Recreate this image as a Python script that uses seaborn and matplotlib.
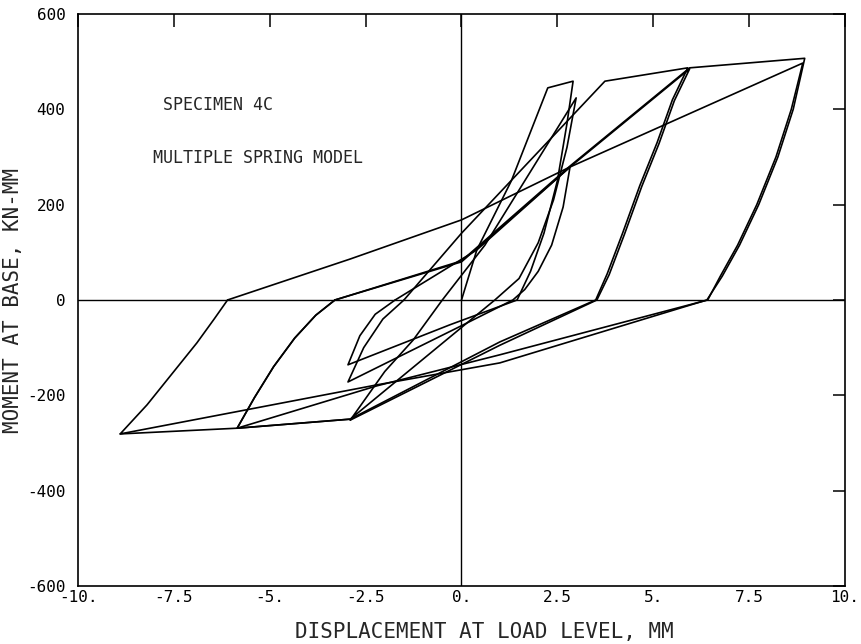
import pandas as pd
import numpy as np
import matplotlib
matplotlib.use('Agg')
import matplotlib.pyplot as plt
import seaborn as sns

# hysteresis path (displacement mm, moment kN-mm)
cyc1_x = [0, 0.4, 1.3, 2.25, 2.91, 2.75, 2.5, 2.15, 1.8, 1.45, -0.3, -2.96, -2.65, -2.25, -1.73]
cyc1_y = [0, 105, 250, 445, 459, 370, 250, 140, 60, 0, -52, -136, -75, -30, 0]

cyc2_x = [-1.73, 0.4, 2.83, 2.65, 2.35, 2.0, 1.65, 1.34, 0, -2.96, -2.55, -2.05, -1.5]
cyc2_y = [0, 105, 279, 195, 115, 60, 22, 0, -54, -172, -100, -40, 0]

cyc3_x = [-1.5, 0, 3.74, 5.9, 5.5, 5.1, 4.65, 4.2, 3.8, 3.5, 1.0, -2.9, -5.85,
          -5.4, -4.9, -4.35, -3.8, -3.3]
cyc3_y = [0, 140, 459, 487, 420, 330, 240, 140, 55, 0, -88, -250, -269,
          -205, -140, -80, -32, 0]

cyc4_x = [-3.3, 0, 2.83, 5.95, 5.55, 5.15, 4.7, 4.25, 3.85, 3.53, 1.0, -2.9]
cyc4_y = [0, 80, 279, 485, 418, 328, 238, 138, 53, 0, -95, -252]

cyc5_x = [-2.9, -2.0, -1.26, -0.5, 0.61, 2.99, 2.75, 2.4, 2.0, 1.5, 0.87, -2.9, -5.85,
          -5.4, -4.9, -4.35, -3.8, -3.3]
cyc5_y = [-252, -150, -84, 0, 115, 424, 320, 210, 120, 45, 0, -250, -269,
          -205, -140, -80, -32, 0]

cyc6_x = [-3.3, 0, 2.83, 5.95, 8.95, 8.65, 8.25, 7.75, 7.25, 6.8, 6.4, 1.0, -2.2, -8.9,
          -8.2, -7.5, -6.9, -6.45, -6.1]
cyc6_y = [0, 82, 281, 487, 507, 400, 300, 200, 115, 50, 0, -132, -178, -281,
          -220, -150, -90, -40, 0]

cyc7_x = [-6.1, -2.9, 0, 2.83, 8.9, 8.6, 8.2, 7.7, 7.2, 6.75, 6.42, 1.0, -2.2, -5.85, -8.9]
cyc7_y = [0, 86, 168, 279, 497, 400, 300, 200, 115, 50, 0, -115, -180, -269, -281]

xticks = [-10, -7.5, -5, -2.5, 0, 2.5, 5, 7.5, 10]
xtick_labels = ['-10.', '-7.5', '-5.', '-2.5', '0.', '2.5', '5.', '7.5', '10.']
yticks = [-600, -400, -200, 0, 200, 400, 600]
ytick_labels = ['-600', '-400', '-200', '0', '200', '400', '600']

cycles = [(cyc1_x, cyc1_y), (cyc2_x, cyc2_y), (cyc3_x, cyc3_y), (cyc4_x, cyc4_y),
          (cyc5_x, cyc5_y), (cyc6_x, cyc6_y), (cyc7_x, cyc7_y)]
frames = []
for i, (cx, cy) in enumerate(cycles):
    frames.append(pd.DataFrame({'disp': cx, 'moment': cy, 'cycle': i + 1}))
data = pd.concat(frames, ignore_index=True)

sns.set_style('white')
plt.rcParams['font.family'] = ['DejaVu Sans Mono', 'DejaVu Sans']

fig = plt.figure(figsize=(8.61, 6.44), dpi=100)
ax = fig.add_axes([0.0906, 0.0901, 0.8908, 0.8882])

sns.lineplot(data=data, x='disp', y='moment', units='cycle', estimator=None, sort=False,
             color='black', linewidth=1.2, ax=ax)

ax.axhline(0, color='black', linewidth=1.0)
ax.axvline(0, color='black', linewidth=1.0)

ax.set_xlim(-10, 10)
ax.set_ylim(-600, 600)
ax.set_xticks(xticks)
ax.set_xticklabels(xtick_labels, fontsize=11.5)
ax.set_yticks(yticks)
ax.set_yticklabels(ytick_labels, fontsize=11.5)
ax.tick_params(direction='in', top=True, right=True, length=9, width=1.1, colors='black')
ax.tick_params(axis='x', pad=3)
ax.tick_params(axis='y', pad=9)
for s in ax.spines.values():
    s.set_color('black')
    s.set_linewidth(1.2)

ax.set_xlabel('DISPLACEMENT AT LOAD LEVEL, MM', fontsize=15)
ax.set_ylabel('MOMENT AT BASE, KN-MM', fontsize=15)
ax.xaxis.set_label_coords(0.53, -0.063)
ax.yaxis.set_label_coords(-0.072, 0.5)

ax.text(-7.78, 409, 'SPECIMEN 4C', fontsize=12, va='center', ha='left')
ax.text(-8.04, 298, 'MULTIPLE SPRING MODEL', fontsize=12, va='center', ha='left')

fig.savefig('out.png', dpi=100)
